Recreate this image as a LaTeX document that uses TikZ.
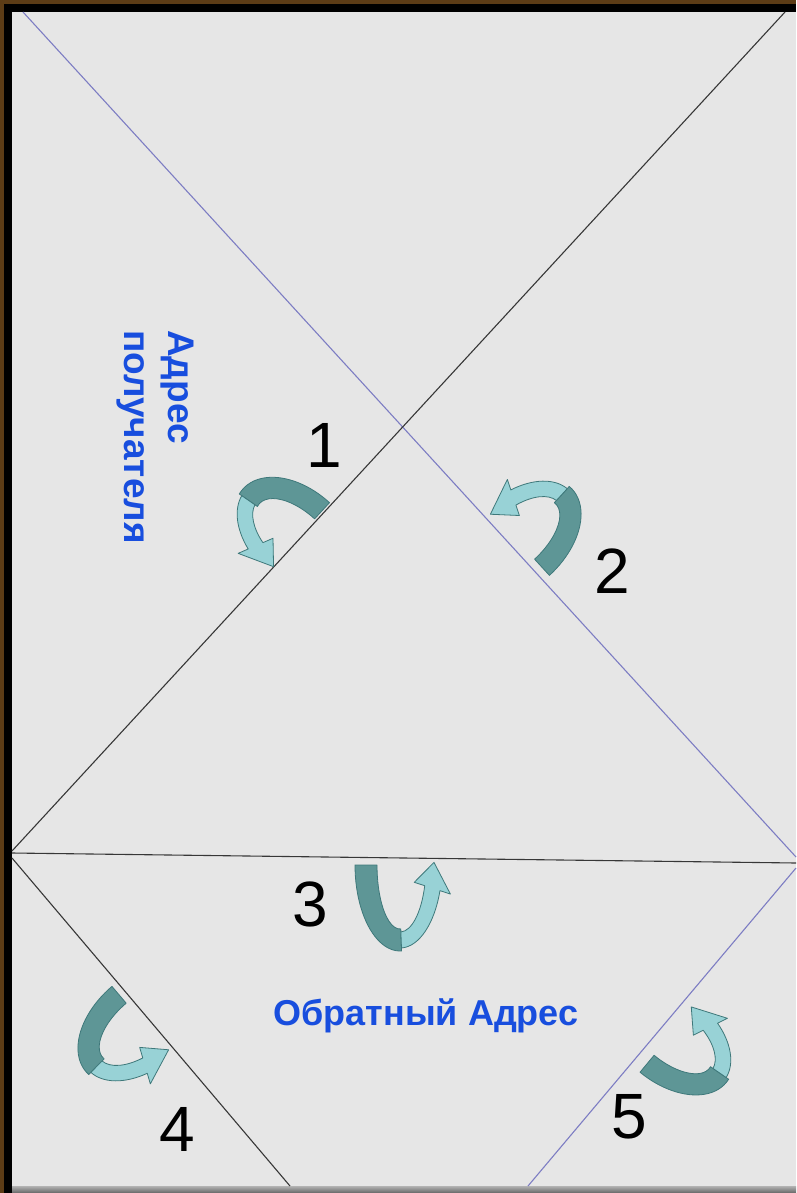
\documentclass[tikz,border=0pt]{standalone}
\usepackage{fontspec}
\setmainfont{Liberation Sans}
\definecolor{wood}{RGB}{92,60,22}
\definecolor{paper}{RGB}{230,230,230}
\definecolor{foldblue}{RGB}{125,125,195}
\definecolor{foldblack}{RGB}{55,55,55}
\definecolor{ribdark}{RGB}{94,150,150}
\definecolor{riblight}{RGB}{152,210,214}
\definecolor{ribedge}{RGB}{62,120,122}
\definecolor{txtblue}{RGB}{24,78,222}
% #1 centre, #2 rotation, #3 a, #4 b, #5 start, #6 mid, #7 head base, #8 tip
\newcommand{\foldarrow}[8]{%
\begin{scope}[shift={#1},rotate=#2]
\pgfmathsetmacro\aod{#3+11}\pgfmathsetmacro\bod{#4+11}
\pgfmathsetmacro\aid{#3-11}\pgfmathsetmacro\bid{#4-11}
\pgfmathsetmacro\aol{#3+8}\pgfmathsetmacro\bol{#4+8}
\pgfmathsetmacro\ail{#3-8}\pgfmathsetmacro\bil{#4-8}
\pgfmathsetmacro\aoh{#3+19}\pgfmathsetmacro\boh{#4+19}
\pgfmathsetmacro\aih{#3-19}\pgfmathsetmacro\bih{#4-19}
\filldraw[ribback] (#5:{\aod} and {\bod}) arc[start angle=#5,end angle=#6,x radius=\aod,y radius=\bod]
  -- (#6:{\aid} and {\bid}) arc[start angle=#6,end angle=#5,x radius=\aid,y radius=\bid] -- cycle;
\filldraw[ribfront] (#6:{\aol} and {\bol}) arc[start angle=#6,end angle=#7,x radius=\aol,y radius=\bol]
  -- (#7:{\aoh} and {\boh}) -- (#8:{#3} and {#4}) -- (#7:{\aih} and {\bih})
  -- (#7:{\ail} and {\bil}) arc[start angle=#7,end angle=#6,x radius=\ail,y radius=\bil] -- cycle;
\end{scope}}
\begin{document}
\begin{tikzpicture}[x=1pt,y=1pt,
  ribback/.style={fill=ribdark,draw=ribedge,line width=0.8pt,line join=round},
  ribfront/.style={fill=riblight,draw=ribedge,line width=0.8pt,line join=round},
  blueline/.style={draw=foldblue,line width=1.1pt},
  blackline/.style={draw=foldblack,line width=1.1pt},
  digit/.style={inner sep=0pt,font=\fontsize{64}{70}\selectfont},
  bluetext/.style={inner sep=0pt,text=txtblue,font=\bfseries\fontsize{37}{44}\selectfont}]
\useasboundingbox (0,0) rectangle (796,-1193);
\fill[wood] (0,0) rectangle (796,-1193);
\fill[black] (4,-4) rectangle (796,-1193);
\fill[paper] (12,-12) rectangle (796,-1186);
\shade[top color=gray!60,bottom color=gray!80!black] (12,-1186) rectangle (796,-1193);
% fold lines
\coordinate (A1) at (23,-12);  \coordinate (A2) at (796,-857);
\coordinate (B1) at (785,-12); \coordinate (B2) at (12,-851);
\coordinate (H1) at (12,-853); \coordinate (H2) at (796,-863);
\coordinate (C1) at (12,-858); \coordinate (C2) at (290,-1186);
\coordinate (D1) at (796,-868); \coordinate (D2) at (528,-1186);
\draw[blueline] (A1) -- (A2);
\draw[blackline] (B1) -- (B2);
\draw[blackline] (H1) -- (H2);
\draw[blackline] (C1) -- (C2);
\draw[blueline] (D1) -- (D2);
% arrows
\foldarrow{(297,-538)}{47.4}{37}{62}{0}{98}{156}{182}
\foldarrow{(517,-540)}{-47.5}{37}{64}{0}{95}{156}{182}
\foldarrow{(400,-865)}{0}{34}{75}{180}{272}{342}{362}
\foldarrow{(143,-1023)}{-49.7}{37}{64}{180}{275}{336}{362}
\foldarrow{(670,-1036)}{50.4}{36}{62}{180}{275}{336}{362}
% labels
\node[digit] (n1) at (324,-445) {1};
\node[digit] (n2) at (612,-571) {2};
\node[digit] (n3) at (310,-904) {3};
\node[digit] (n4) at (177,-1129) {4};
\node[digit] (n5) at (629,-1117) {5};
\node[bluetext,rotate=-90,anchor=north west,align=left] (rcpt) at (194,-330) {Адрес\\получателя};
\node[bluetext,font=\bfseries\fontsize{36}{42}\selectfont,anchor=base] (ret) at (426,-1025) {Обратный Адрес};
\end{tikzpicture}
\end{document}
